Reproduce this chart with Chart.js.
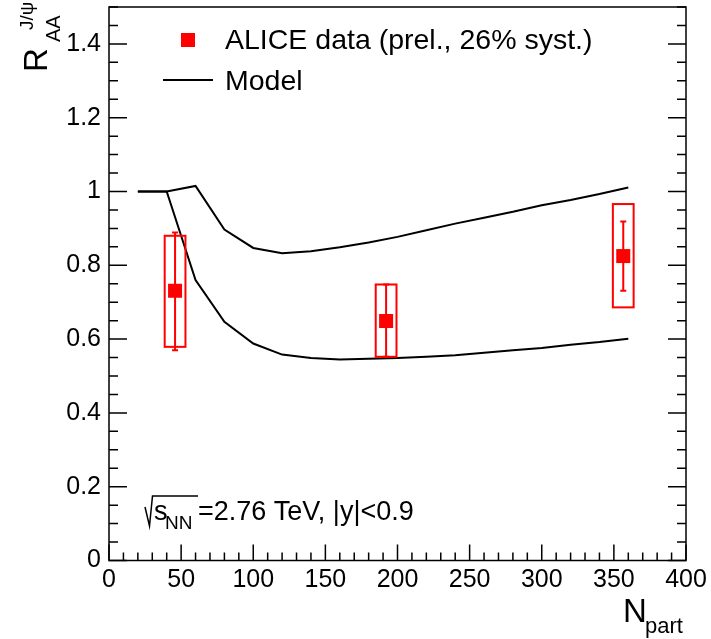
<!DOCTYPE html>
<html>
<head>
<meta charset="utf-8">
<script src="https://cdn.jsdelivr.net/npm/chart.js@4.4.0/dist/chart.umd.min.js"></script>
<style>
  html, body { margin: 0; padding: 0; background: #fff; }
  #wrap { width: 711px; height: 639px; }
</style>
</head>
<body>
<div id="wrap"><canvas id="raaChart" width="711" height="639"></canvas></div>
<script>
// model band (two curves), N_part vs R_AA
const modelX = [20, 40, 60, 80, 100, 120, 140, 160, 180, 200, 220, 240, 260, 280, 300, 320, 340, 360];
const modelUpper = [1.0, 1.0, 1.015, 0.897, 0.847, 0.833, 0.838, 0.849, 0.862, 0.877, 0.895, 0.913, 0.929, 0.945, 0.963, 0.977, 0.993, 1.011];
const modelLower = [1.0, 1.0, 0.760, 0.647, 0.588, 0.558, 0.549, 0.545, 0.547, 0.549, 0.552, 0.556, 0.563, 0.570, 0.576, 0.585, 0.592, 0.601];

// ALICE points
const dataNpart = [45.8, 192.1, 356.5];
const dataRaa = [0.731, 0.649, 0.825];
const statLow = [0.570, 0.552, 0.731];
const statHigh = [0.889, 0.748, 0.919];
const systLow = [0.579, 0.552, 0.686];
const systHigh = [0.880, 0.748, 0.966];
const systHalfWidth = 7.2;

// axes
const xMajorTicks = [0, 50, 100, 150, 200, 250, 300, 350, 400];
const yMajorTicks = [0, 0.2, 0.4, 0.6, 0.8, 1.0, 1.2, 1.4];

const RED = '#ff0000';
const FONT = '"Liberation Sans", Arial, Helvetica, sans-serif';

const toXY = (xs, ys) => xs.map((x, i) => ({ x: x, y: ys[i] }));

// frame + inward ticks (ROOT style)
const framePlugin = {
    id: 'frame',
    afterDraw(chart) {
        const { ctx, chartArea: a, scales: { x, y } } = chart;
        ctx.save();
        ctx.strokeStyle = '#000';
        ctx.lineWidth = 1.5;
        ctx.strokeRect(a.left, a.top, a.right - a.left, a.bottom - a.top);
        ctx.beginPath();
        for (let v = 0; v <= 400.001; v += 10) {
            const px = x.getPixelForValue(v);
            const len = Math.abs(v % 50) < 0.01 ? 16 : 8;
            ctx.moveTo(px, a.bottom);
            ctx.lineTo(px, a.bottom - len);
        }
        for (let k = 0; k <= 30; k++) {
            const v = k * 0.05;
            const py = y.getPixelForValue(v);
            const len = k % 4 === 0 ? 18 : 9;
            ctx.moveTo(a.left, py);
            ctx.lineTo(a.left + len, py);
            ctx.moveTo(a.right, py);
            ctx.lineTo(a.right - len, py);
        }
        ctx.stroke();
        ctx.restore();
    }
};

// systematic boxes and stat error bars
const errorPlugin = {
    id: 'errors',
    afterDatasetsDraw(chart) {
        const { ctx, scales: { x, y } } = chart;
        ctx.save();
        ctx.strokeStyle = RED;
        ctx.lineWidth = 2;
        dataNpart.forEach((n, i) => {
            const x0 = x.getPixelForValue(n - systHalfWidth);
            const x1 = x.getPixelForValue(n + systHalfWidth);
            const yt = y.getPixelForValue(systHigh[i]);
            const yb = y.getPixelForValue(systLow[i]);
            ctx.strokeRect(x0, yt, x1 - x0, yb - yt);

            const xc = x.getPixelForValue(n);
            const st = y.getPixelForValue(statHigh[i]);
            const sb = y.getPixelForValue(statLow[i]);
            ctx.beginPath();
            ctx.moveTo(xc, st); ctx.lineTo(xc, sb);
            ctx.moveTo(xc - 3, st); ctx.lineTo(xc + 3, st);
            ctx.moveTo(xc - 3, sb); ctx.lineTo(xc + 3, sb);
            ctx.stroke();
        });
        // markers on top
        ctx.fillStyle = RED;
        dataNpart.forEach((n, i) => {
            const xc = x.getPixelForValue(n);
            const yc = y.getPixelForValue(dataRaa[i]);
            ctx.fillRect(xc - 7, yc - 7, 14, 14);
        });
        ctx.restore();
    }
};

// legend, annotation, axis titles
const textPlugin = {
    id: 'texts',
    afterDraw(chart) {
        const ctx = chart.ctx;
        ctx.save();
        ctx.fillStyle = '#000';
        ctx.textBaseline = 'alphabetic';
        ctx.textAlign = 'left';

        // legend
        ctx.fillStyle = RED;
        ctx.fillRect(181, 33, 14, 14);
        ctx.fillStyle = '#000';
        ctx.font = '28.5px ' + FONT;
        ctx.fillText('ALICE data (prel., 26% syst.)', 225, 48.5);
        ctx.strokeStyle = '#000';
        ctx.lineWidth = 2;
        ctx.beginPath();
        ctx.moveTo(163, 80); ctx.lineTo(213, 80);
        ctx.stroke();
        ctx.fillText('Model', 225, 90);

        // sqrt(s_NN) annotation
        ctx.lineWidth = 1.5;
        ctx.beginPath();
        ctx.moveTo(145, 507);
        ctx.lineTo(149.5, 526);
        ctx.lineTo(152.5, 496);
        ctx.lineTo(198, 496);
        ctx.stroke();
        ctx.font = '27px ' + FONT;
        ctx.fillText('s', 154, 520);
        ctx.font = '19px ' + FONT;
        ctx.fillText('NN', 165, 529);
        ctx.font = '27px ' + FONT;
        ctx.fillText('=2.76 TeV, |y|<0.9', 198, 520);

        // x title
        ctx.font = '33px ' + FONT;
        ctx.fillText('N', 623, 622);
        ctx.font = '22px ' + FONT;
        ctx.fillText('part', 645, 633);

        // y title, rotated
        ctx.save();
        ctx.translate(47, 72);
        ctx.rotate(-Math.PI / 2);
        ctx.font = '33px ' + FONT;
        ctx.fillText('R', 0, 0);
        ctx.restore();
        ctx.save();
        ctx.translate(60, 42);
        ctx.rotate(-Math.PI / 2);
        ctx.font = '20px ' + FONT;
        ctx.fillText('AA', 0, 0);
        ctx.restore();
        ctx.save();
        ctx.translate(33, 30);
        ctx.rotate(-Math.PI / 2);
        ctx.font = '19px ' + FONT;
        ctx.fillText('J/\u03C8', 0, 0);
        ctx.restore();

        ctx.restore();
    }
};

const tickFont = { family: FONT, size: 25 };

new Chart(document.getElementById('raaChart'), {
    type: 'scatter',
    data: {
        datasets: [
            {
                label: 'Model',
                type: 'line',
                data: toXY(modelX, modelUpper),
                borderColor: '#000',
                borderWidth: 2,
                pointRadius: 0,
                tension: 0,
                fill: false
            },
            {
                label: 'Model lower',
                type: 'line',
                data: toXY(modelX, modelLower),
                borderColor: '#000',
                borderWidth: 2,
                pointRadius: 0,
                tension: 0,
                fill: false
            },
            {
                label: 'ALICE data (prel., 26% syst.)',
                data: toXY(dataNpart, dataRaa),
                pointStyle: 'rect',
                pointRadius: 0,
                backgroundColor: RED,
                borderColor: RED
            }
        ]
    },
    options: {
        responsive: false,
        animation: false,
        devicePixelRatio: 1,
        layout: { padding: { top: 7, right: 25, left: 0, bottom: 0 } },
        plugins: {
            legend: { display: false },
            tooltip: { enabled: false }
        },
        scales: {
            x: {
                type: 'linear',
                min: 0,
                max: 400,
                grid: { display: false, drawTicks: false },
                border: { display: false },
                afterFit: (scale) => {
                    scale.height = 78.5;
                    scale.paddingLeft = 0;
                    scale.paddingRight = 0;
                },
                afterBuildTicks: (scale) => { scale.ticks = xMajorTicks.map(v => ({ value: v })); },
                ticks: {
                    color: '#000',
                    font: tickFont,
                    padding: 5,
                    maxRotation: 0,
                    autoSkip: false,
                    callback: (v) => String(v)
                }
            },
            y: {
                type: 'linear',
                min: 0,
                max: 1.5,
                grid: { display: false, drawTicks: false },
                border: { display: false },
                afterFit: (scale) => {
                    scale.width = 109;
                    scale.paddingTop = 0;
                    scale.paddingBottom = 0;
                },
                afterBuildTicks: (scale) => { scale.ticks = yMajorTicks.map(v => ({ value: v })); },
                ticks: {
                    color: '#000',
                    font: tickFont,
                    padding: 8,
                    autoSkip: false,
                    callback: (v) => String(Math.round(v * 10) / 10)
                }
            }
        }
    },
    plugins: [framePlugin, errorPlugin, textPlugin]
});
</script>
</body>
</html>
